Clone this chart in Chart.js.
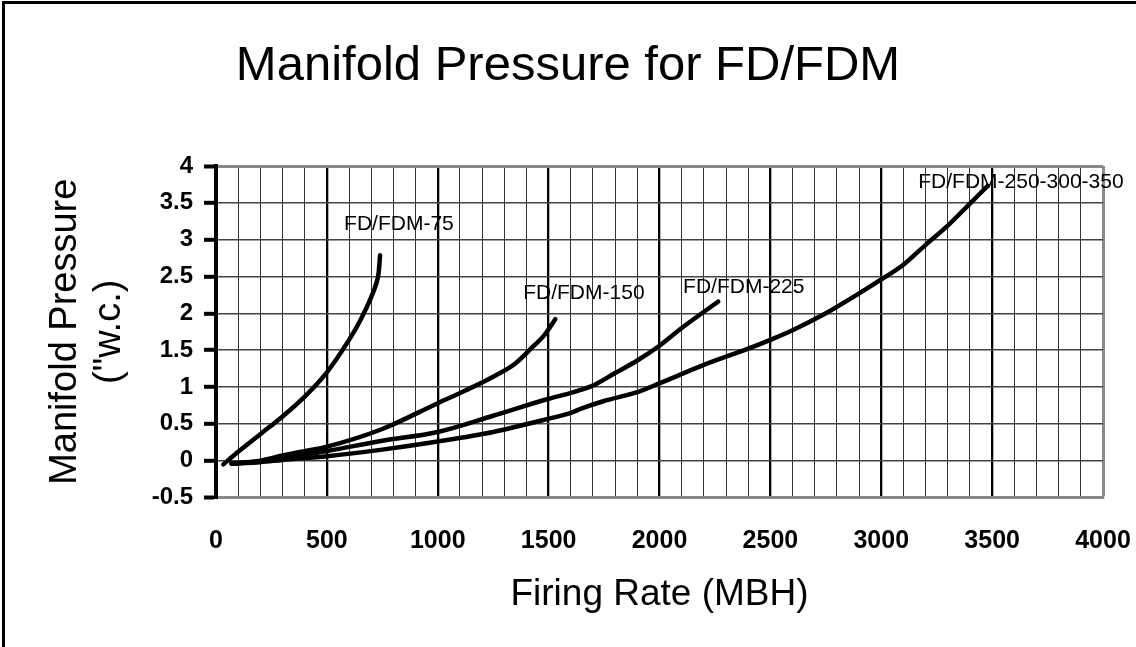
<!DOCTYPE html>
<html>
<head>
<meta charset="utf-8">
<script src="https://cdn.jsdelivr.net/npm/chart.js@4.4.1/dist/chart.umd.min.js"></script>
<style>
  html, body { margin: 0; padding: 0; background: #fff; }
  #wrap { width: 1136px; height: 647px; }
</style>
</head>
<body>
<div id="wrap"><canvas id="chart" width="1136" height="647"></canvas></div>
<script>
// Curves: firing rate (MBH) vs manifold pressure ("w.c.)
const rate75  = [33, 100, 200, 300, 400, 500, 600, 650, 700, 720, 733, 740];
const press75 = [-0.05, 0.12, 0.36, 0.6, 0.87, 1.2, 1.64, 1.9, 2.22, 2.38, 2.54, 2.79];

const rate150  = [70, 200, 300, 400, 500, 750, 1000, 1130, 1250, 1350, 1430, 1480, 1530];
const press150 = [-0.04, 0.0, 0.07, 0.13, 0.19, 0.43, 0.78, 0.96, 1.14, 1.32, 1.55, 1.7, 1.92];

const rate225  = [70, 200, 300, 400, 500, 750, 1000, 1250, 1500, 1600, 1700, 1800, 1900, 2000, 2100, 2265];
const press225 = [-0.04, -0.01, 0.03, 0.08, 0.13, 0.27, 0.39, 0.61, 0.84, 0.92, 1.02, 1.19, 1.36, 1.56, 1.8, 2.16];

const rate350  = [70, 200, 300, 500, 750, 1000, 1250, 1500, 1600, 1650, 1750, 1900, 2000, 2200, 2400, 2500,
                  2600, 2750, 2900, 3000, 3100, 3200, 3300, 3400, 3480];
const press350 = [-0.04, -0.02, 0.01, 0.06, 0.15, 0.26, 0.39, 0.57, 0.65, 0.71, 0.81, 0.93, 1.05, 1.3, 1.52, 1.64,
                  1.77, 2.0, 2.27, 2.46, 2.66, 2.93, 3.19, 3.49, 3.73];

const seriesNames = ['FD/FDM-75', 'FD/FDM-150', 'FD/FDM-225', 'FD/FDM-250-300-350'];

// axis ticks
const xTicks = [0, 500, 1000, 1500, 2000, 2500, 3000, 3500, 4000];
const yTicks = [-0.5, 0, 0.5, 1, 1.5, 2, 2.5, 3, 3.5, 4];

function toPoints(xs, ys) {
  return xs.map((x, i) => ({ x: x, y: ys[i] }));
}

const curves = [[rate75, press75], [rate150, press150], [rate225, press225], [rate350, press350]];

// where each curve's name sits (data units)
const labelSpots = [
  { x: 825, y: 3.21 },
  { x: 1659, y: 2.27 },
  { x: 2380, y: 2.36 },
  { x: 3630, y: 3.78 }
];

const FONT = "'Liberation Sans', Arial, sans-serif";

const extras = {
  id: 'extras',
  afterDraw(chart) {
    const ctx = chart.ctx;
    const xs = chart.scales.x, ys = chart.scales.y;
    ctx.save();
    // outer frame (left + top)
    ctx.strokeStyle = '#000';
    ctx.lineWidth = 3;
    ctx.beginPath();
    ctx.moveTo(3.5, 647);
    ctx.lineTo(3.5, 2.5);
    ctx.lineTo(1136, 2.5);
    ctx.stroke();

    // title
    ctx.fillStyle = '#000';
    ctx.textAlign = 'center';
    ctx.textBaseline = 'alphabetic';
    ctx.font = '49px ' + FONT;
    ctx.fillText('Manifold Pressure for FD/FDM', 568, 80);

    // curve labels
    ctx.font = '21px ' + FONT;
    ctx.textBaseline = 'middle';
    chart.data.datasets.forEach((ds, i) => {
      const p = labelSpots[i];
      ctx.fillText(ds.label, xs.getPixelForValue(p.x), ys.getPixelForValue(p.y));
    });
    ctx.restore();
  }
};

new Chart(document.getElementById('chart'), {
  type: 'line',
  data: {
    datasets: curves.map((c, i) => ({
      label: seriesNames[i],
      data: toPoints(c[0], c[1]),
      borderColor: '#000',
      borderWidth: 4.5,
      borderCapStyle: 'round',
      borderJoinStyle: 'round',
      pointRadius: 0,
      fill: false,
      cubicInterpolationMode: 'monotone'
    }))
  },
  options: {
    responsive: false,
    animation: false,
    layout: { padding: { top: 166, right: 33, left: 0, bottom: 0 } },
    plugins: {
      legend: { display: false },
      title: { display: false },
      tooltip: { enabled: false }
    },
    scales: {
      x: {
        type: 'linear',
        min: 0,
        max: 4000,
        afterFit: s => { s.height = 149.5; },
        ticks: {
          stepSize: 100,
          autoSkip: false,
          maxRotation: 0,
          padding: 0,
          color: '#000',
          font: { family: FONT, size: 25, weight: 'bold' },
          callback: v => xTicks.includes(v) ? String(v) : ''
        },
        grid: {
          drawTicks: true,
          tickLength: 29,
          tickColor: 'rgba(0,0,0,0)',
          color: c => c.tick.value === 4000 ? '#888' : (c.tick.value % 500 === 0 ? '#000' : '#333'),
          lineWidth: c => c.tick.value === 4000 ? 3 : (c.tick.value % 500 === 0 ? 2.3 : 1)
        },
        border: { color: '#888', width: 3 },
        title: {
          display: true,
          text: 'Firing Rate (MBH)',
          color: '#000',
          font: { family: FONT, size: 37 },
          padding: { top: 0, bottom: 30 }
        }
      },
      y: {
        min: -0.5,
        max: 4,
        afterFit: s => { s.width = 216; },
        ticks: {
          stepSize: 0.5,
          padding: 11,
          color: '#000',
          font: { family: FONT, size: 24, weight: 'bold' },
          callback: v => yTicks.includes(v) ? String(v) : ''
        },
        grid: {
          drawTicks: true,
          tickLength: 12,
          tickWidth: 4,
          tickColor: '#000',
          color: c => (c.tick.value === 4 || c.tick.value === -0.5) ? '#888' : '#444',
          lineWidth: c => (c.tick.value === 4 || c.tick.value === -0.5) ? 3 : 1.6
        },
        border: { color: '#000', width: 4 },
        title: {
          display: true,
          text: ['Manifold Pressure', '("w.c.)'],
          color: '#000',
          font: { family: FONT, size: 38, lineHeight: 1.15 },
          padding: { top: 44, bottom: 0 }
        }
      }
    }
  },
  plugins: [extras]
});
</script>
</body>
</html>
